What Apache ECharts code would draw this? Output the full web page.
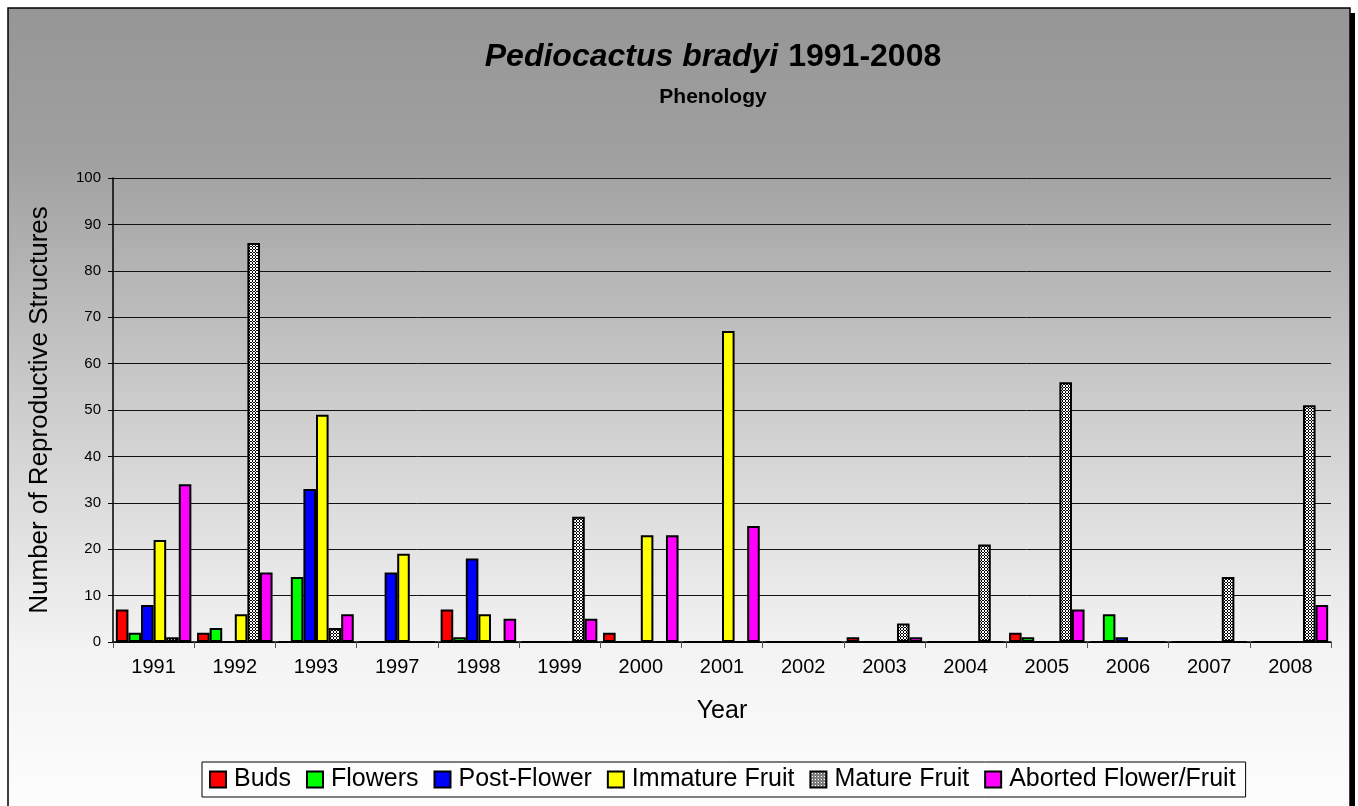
<!DOCTYPE html>
<html>
<head>
<meta charset="utf-8">
<script src="https://cdn.jsdelivr.net/npm/echarts@6/dist/echarts.min.js"></script>
<style>
html,body{margin:0;padding:0;background:#fff;}
#chart{width:1358px;height:806px;}
</style>
</head>
<body>
<div id="chart"></div>
<script>
const years = ['1991','1992','1993','1997','1998','1999','2000','2001','2002','2003','2004','2005','2006','2007','2008'];
const buds       = [7, 2, 0, 0, 7, 0, 2, 0, 0, 1, 0, 2, 0, 0, 0];
const flowers    = [2, 3, 14, 0, 1, 0, 0, 0, 0, 0, 0, 1, 6, 0, 0];
const postFlower = [8, 0, 33, 15, 18, 0, 0, 0, 0, 0, 0, 0, 1, 0, 0];
const immature   = [22, 6, 49, 19, 6, 0, 23, 67, 0, 0, 0, 0, 0, 0, 0];
const mature     = [1, 86, 3, 0, 0, 27, 0, 0, 0, 4, 21, 56, 0, 14, 51];
const aborted    = [34, 15, 6, 0, 5, 5, 23, 25, 0, 1, 0, 7, 0, 0, 8];
const seriesNames = ['Buds','Flowers','Post-Flower','Immature Fruit','Mature Fruit','Aborted Flower/Fruit'];
const yTicks = [0,10,20,30,40,50,60,70,80,90,100];

// small grid pattern for Mature Fruit
const pc = document.createElement('canvas');
pc.width = 3; pc.height = 3;
const pctx = pc.getContext('2d');
pctx.fillStyle = '#ffffff'; pctx.fillRect(0,0,3,3);
pctx.fillStyle = '#000000';
pctx.fillRect(0,0,3,1);
pctx.fillRect(0,0,1,3);
pctx.fillStyle = '#ffffff';
pctx.fillRect(0,0,1,1);

const colors = ['#ff0000','#00ff00','#0000ff','#ffff00',{image: pc, repeat: 'repeat'},'#ff00ff'];
const dataSets = [buds, flowers, postFlower, immature, mature, aborted];

const chart = echarts.init(document.getElementById('chart'), null, {renderer:'canvas'});
const font = 'Liberation Sans, Arial, Helvetica, sans-serif';

const option = {
  animation: false,
  textStyle: {fontFamily: font},
  graphic: [
    {type:'rect', z:-10, silent:true, shape:{x:13, y:13, width:1342, height:820}, style:{fill:'#000'}},
    {type:'rect', z:-9, silent:true, shape:{x:8, y:8, width:1342, height:820},
      style:{
        fill: new echarts.graphic.LinearGradient(0,0,0,1,[
          {offset:0, color:'#969696'},
          {offset:0.185, color:'#a0a0a0'},
          {offset:0.48, color:'#cccccc'},
          {offset:0.78, color:'#f3f3f3'},
          {offset:0.973, color:'#fdfdfd'},
          {offset:1, color:'#fefefe'}
        ]),
        stroke:'#000', lineWidth:1.5
      }}
  ],
  title: {
    left: 708, textAlign: 'center', top: 36,
    text: '{i|Pediocactus bradyi}  {b|1991-2008}',
    textStyle: {
      rich: {
        i: {fontFamily: font, fontSize: 32, fontWeight:'bold', fontStyle:'italic', color:'#000'},
        b: {fontFamily: font, fontSize: 32, fontWeight:'bold', color:'#000'}
      }
    },
    subtext: 'Phenology',
    itemGap: 14,
    subtextStyle: {fontFamily: font, fontSize: 21, fontWeight:'bold', color:'#000'}
  },
  legend: {
    left: 202, top: 762,
    data: seriesNames,
    icon: 'rect',
    itemWidth: 16, itemHeight: 16,
    itemGap: 15,
    padding: [5, 10, 5, 7],
    backgroundColor: '#fdfdfd',
    borderColor: '#000', borderWidth: 1,
    itemStyle: {borderColor:'#000', borderWidth: 2},
    textStyle: {fontFamily: font, fontSize: 25, color:'#000', padding:[0,0,0,3]}
  },
  grid: {left: 113, right: 27, top: 178, bottom: 164, containLabel: false},
  xAxis: {
    type: 'category',
    data: years,
    name: 'Year',
    nameLocation: 'middle',
    nameGap: 57,
    nameTextStyle: {fontFamily: font, fontSize: 25, color:'#000'},
    axisLine: {show:true, lineStyle:{color:'#000', width:1.5}},
    axisTick: {show:true, alignWithLabel:false, length:6, lineStyle:{color:'#555', width:1}},
    axisLabel: {fontFamily: font, fontSize: 20, color:'#000', margin: 15},
    splitLine: {show:false}
  },
  yAxis: {
    type: 'value',
    min: 0, max: 100, interval: 10,
    name: 'Number of Reproductive Structures',
    nameLocation: 'middle',
    nameGap: 60,
    nameRotate: 90,
    nameTextStyle: {fontFamily: font, fontSize: 26, color:'#000'},
    axisLine: {show:true, lineStyle:{color:'#000', width:1.5}},
    axisTick: {show:true, length:5, lineStyle:{color:'#000', width:1}},
    axisLabel: {fontFamily: font, fontSize: 15, color:'#000', margin: 12,
      formatter: function(v){ return yTicks.indexOf(v) >= 0 ? String(v) : ''; }},
    splitLine: {show:true, lineStyle:{color:'#111', width:1}}
  },
  series: seriesNames.map(function(name, i){
    return {
      name: name,
      type: 'bar',
      data: dataSets[i],
      barGap: '0%',
      barCategoryGap: '7%',
      itemStyle: {color: colors[i], borderColor:'#000', borderWidth: 2},
      emphasis: {disabled: true}
    };
  })
};
chart.setOption(option);
</script>
</body>
</html>
